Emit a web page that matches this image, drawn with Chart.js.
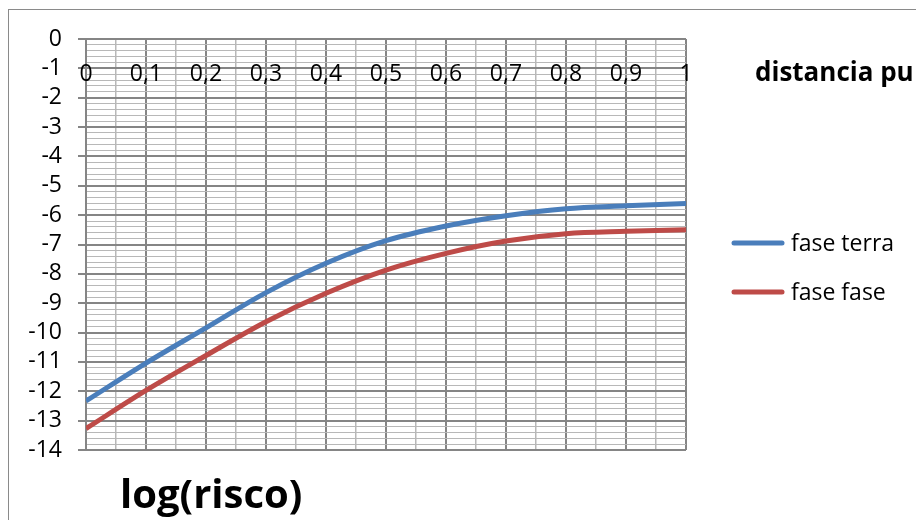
<!DOCTYPE html>
<html>
<head>
<meta charset="utf-8">
<title>log(risco)</title>
<script src="https://cdn.jsdelivr.net/npm/chart.js@4"></script>
<style>
  html, body { margin: 0; padding: 0; background: #fff; }
  #chart { display: block; }
</style>
</head>
<body>
<canvas id="chart" width="916" height="520"></canvas>
<script>
// --- DATA ---
const distancia = [0, 0.1, 0.2, 0.3, 0.4, 0.5, 0.6, 0.7, 0.8, 0.9, 1];
const faseTerra = [-12.33, -11.04, -9.84, -8.64, -7.64, -6.87, -6.37, -6.02, -5.78, -5.68, -5.6];
const faseFase = [-13.27, -11.97, -10.78, -9.63, -8.66, -7.87, -7.3, -6.88, -6.63, -6.55, -6.5];
const xTickValues = [0, 0.1, 0.2, 0.3, 0.4, 0.5, 0.6, 0.7, 0.8, 0.9, 1];
const xTickLabels = ['0', '0,1', '0,2', '0,3', '0,4', '0,5', '0,6', '0,7', '0,8', '0,9', '1'];
const seriesNames = ['fase terra', 'fase fase'];
const xTitle = 'distancia pu';
const yTitle = 'log(risco)';

const FONT = "'Open Sans', sans-serif";
const MAJOR = '#858585';
const MINOR = '#b8b8b8';

Chart.defaults.font.family = FONT;
Chart.defaults.color = '#000';

const near = (v, step) => Math.abs(v / step - Math.round(v / step)) < 1e-6;

// white background + outer chart border
const backgroundPlugin = {
    id: 'background',
    beforeDraw(chart) {
        const ctx = chart.ctx;
        ctx.save();
        ctx.fillStyle = '#fff';
        ctx.fillRect(0, 0, chart.width, chart.height);
        ctx.strokeStyle = '#8a8a8a';
        ctx.lineWidth = 1;
        ctx.strokeRect(8.5, 9.5, chart.width + 50, chart.height + 50);
        ctx.restore();
    }
};

// x labels just under the axis at y = 0, titles, legend
const decorPlugin = {
    id: 'decor',
    afterDraw(chart) {
        const ctx = chart.ctx;
        const xs = chart.scales.x;
        const ys = chart.scales.y;
        ctx.save();

        ctx.fillStyle = '#000';
        ctx.font = `23px ${FONT}`;
        ctx.textAlign = 'center';
        ctx.textBaseline = 'middle';
        const labelY = ys.getPixelForValue(0) + 35;
        xTickValues.forEach((v, i) => {
            ctx.fillText(xTickLabels[i], xs.getPixelForValue(v), labelY);
        });

        ctx.textAlign = 'left';
        ctx.textBaseline = 'alphabetic';
        ctx.font = `bold 26px ${FONT}`;
        ctx.fillText(xTitle, 755, 81);
        ctx.font = `bold 40px ${FONT}`;
        ctx.fillText(yTitle, 120, 508);

        // legend
        ctx.font = `23px ${FONT}`;
        ctx.textBaseline = 'middle';
        chart.data.datasets.forEach((ds, i) => {
            const y = 243 + i * 49;
            ctx.strokeStyle = ds.borderColor;
            ctx.lineWidth = 5;
            ctx.lineCap = 'round';
            ctx.beginPath();
            ctx.moveTo(734, y);
            ctx.lineTo(782, y);
            ctx.stroke();
            ctx.fillText(ds.label, 791, y + 1);
        });
        ctx.restore();
    }
};

new Chart(document.getElementById('chart'), {
    type: 'line',
    data: {
        datasets: [
            {
                label: seriesNames[0],
                data: distancia.map((x, i) => ({ x, y: faseTerra[i] })),
                borderColor: '#4a7ebb',
                borderWidth: 5,
                pointRadius: 0,
                cubicInterpolationMode: 'monotone',
                fill: false
            },
            {
                label: seriesNames[1],
                data: distancia.map((x, i) => ({ x, y: faseFase[i] })),
                borderColor: '#be4b48',
                borderWidth: 5,
                pointRadius: 0,
                cubicInterpolationMode: 'monotone',
                fill: false
            }
        ]
    },
    options: {
        responsive: false,
        animation: false,
        devicePixelRatio: 1,
        layout: { padding: { top: 39, right: 230, bottom: 70, left: 0 } },
        plugins: {
            legend: { display: false },
            tooltip: { enabled: false }
        },
        scales: {
            x: {
                type: 'linear',
                min: 0,
                max: 1,
                afterFit: s => { s.height = 0; },
                border: { display: false },
                ticks: { display: false, stepSize: 0.05, autoSkip: false },
                grid: {
                    drawTicks: false,
                    color: c => near(c.tick.value, 0.1) ? MAJOR : MINOR,
                    lineWidth: c => near(c.tick.value, 0.1) ? 2 : 1.5
                }
            },
            y: {
                min: -14,
                max: 0,
                afterFit: s => { s.width = 86; },
                border: { display: true, color: MAJOR, width: 2 },
                ticks: {
                    stepSize: 0.2,
                    autoSkip: false,
                    padding: 16,
                    font: { size: 23 },
                    color: '#000',
                    callback: v => near(v, 1) ? String(Math.round(v)) : ''
                },
                grid: {
                    drawTicks: true,
                    tickLength: 8,
                    color: c => near(c.tick.value, 1) ? MAJOR : MINOR,
                    tickColor: c => near(c.tick.value, 1) ? MAJOR : 'rgba(0,0,0,0)',
                    lineWidth: c => near(c.tick.value, 1) ? 2 : 1
                }
            }
        }
    },
    plugins: [backgroundPlugin, decorPlugin]
});
</script>
</body>
</html>
